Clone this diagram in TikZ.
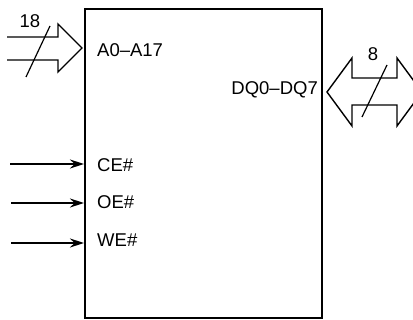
\documentclass[tikz,border=0pt]{standalone}
\usepackage{fontspec}
\setmainfont{Liberation Sans}
\usetikzlibrary{arrows.meta}
\begin{document}
\begin{tikzpicture}[x=1pt,y=-1pt,
  lbl/.style={font=\fontsize{18.5}{20}\selectfont, inner sep=0pt},
  sig/.style={line width=1.4pt, -{Stealth[length=14pt,width=9pt]}},
  bus/.style={line width=1.4pt, line join=miter},
  slash/.style={line width=1.2pt}]
\useasboundingbox (0,0) rectangle (413,320);
\draw[line width=2pt] (85,9) rectangle (322,318);
% address bus arrow
\draw[bus] (7,37) -- (58,37) -- (58,24) -- (82,48) -- (58,72) -- (58,60) -- (7,60);
\coordinate (as1) at (26,77);
\coordinate (as2) at (50,26);
\draw[slash] (as1) -- (as2);
\node[lbl] (n18) at (30,21) {18};
\node[lbl, anchor=west] (addr) at (97,50) {A0--A17};
% data bus arrow
\draw[bus] (327,92) -- (352,58) -- (352,78) -- (397,78) -- (397,58) -- (422,92) -- (397,126) -- (397,105) -- (352,105) -- (352,126) -- cycle;
\coordinate (ds1) at (362,117);
\coordinate (ds2) at (387,65);
\draw[slash] (ds1) -- (ds2);
\node[lbl] (n8) at (373,54) {8};
\node[lbl, anchor=east] (data) at (318,90) {DQ0--DQ7};
% control signals
\node[lbl, anchor=west] (ce) at (97,165) {CE\#};
\node[lbl, anchor=west] (oe) at (97,202) {OE\#};
\node[lbl, anchor=west] (we) at (97,240) {WE\#};
\coordinate (cein) at (10,164);
\coordinate (oein) at (11,203);
\coordinate (wein) at (11,243);
\coordinate (cep) at (84,164);
\coordinate (oep) at (84,203);
\coordinate (wep) at (84,243);
\draw[sig] (cein) -- (cep);
\draw[sig] (oein) -- (oep);
\draw[sig] (wein) -- (wep);
\end{tikzpicture}
\end{document}
